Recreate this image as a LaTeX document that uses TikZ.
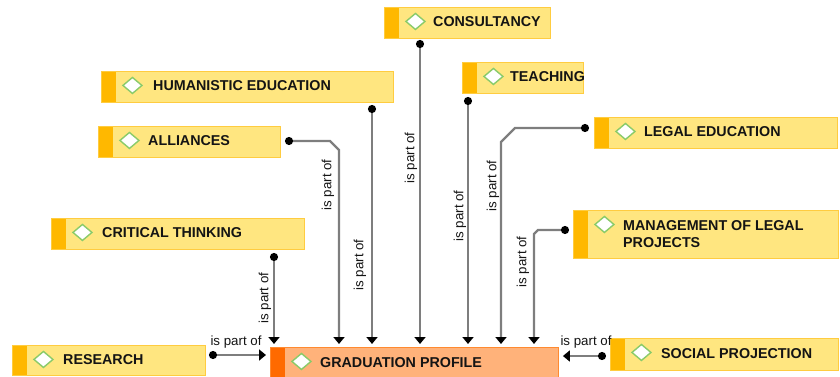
\documentclass[tikz,border=0pt]{standalone}
\usepackage{fontspec}
\setmainfont{Liberation Sans}
\usetikzlibrary{arrows.meta}
\definecolor{yfill}{HTML}{FFE680}
\definecolor{ydraw}{HTML}{FFCC40}
\definecolor{ystripe}{HTML}{FFB800}
\definecolor{ofill}{HTML}{FFB27A}
\definecolor{odraw}{HTML}{FF8A30}
\definecolor{ostripe}{HTML}{FF6A00}
\definecolor{dgreen}{HTML}{8ACB6A}
\definecolor{lgray}{HTML}{7E7E7E}
\definecolor{txt}{HTML}{141414}
\tikzset{
  anybox/.style n args={3}{draw=#1, fill=#2, line width=0.9pt, anchor=north west, inner sep=0pt,
    path picture={
      \fill[#3] (path picture bounding box.north west) rectangle ([xshift=15pt]path picture bounding box.south west);
      \draw[dgreen, fill=white, line width=1.4pt] ([xshift=31pt,yshift=-14pt]path picture bounding box.north west)
        +(-9.5pt,0) -- +(0,8pt) -- +(9.5pt,0) -- +(0,-8pt) -- cycle;
    }},
  ybox/.style={anybox={ydraw}{yfill}{ystripe}},
  obox/.style={anybox={odraw}{ofill}{ostripe}},
  btext/.style={anchor=west, inner sep=0pt, text=txt, align=left,
    font=\fontsize{14.3}{17}\selectfont\bfseries},
  conn/.style={draw=lgray, line width=2.2pt,
    arrows={Circle[length=8pt,color=black]-Triangle[length=7pt,width=11pt,color=black]}},
  lbl/.style={inner sep=0pt, text=txt, font=\fontsize{13.3}{15}\selectfont},
  vlbl/.style={lbl, rotate=90}
}
\begin{document}
\begin{tikzpicture}[x=1pt,y=-1pt]
\useasboundingbox (0,0) rectangle (840,377);
% boxes
\node[ybox, minimum width=166pt, minimum height=31pt] (cons) at (384,7) {};
\node[btext] (cons-t) at ([xshift=49pt,yshift=1pt]cons.west) {CONSULTANCY};
\node[ybox, minimum width=292pt, minimum height=31pt] (hum) at (101,71) {};
\node[btext] (hum-t) at ([xshift=52pt,yshift=1pt]hum.west) {HUMANISTIC EDUCATION};
\node[ybox, minimum width=121pt, minimum height=31pt] (teach) at (462,62) {};
\node[btext] (teach-t) at ([xshift=48pt,yshift=1pt]teach.west) {TEACHING};
\node[ybox, minimum width=182pt, minimum height=31pt] (alli) at (98,126) {};
\node[btext] (alli-t) at ([xshift=50pt,yshift=1pt]alli.west) {ALLIANCES};
\node[ybox, minimum width=243pt, minimum height=31pt] (legal) at (594,117) {};
\node[btext] (legal-t) at ([xshift=50pt,yshift=1pt]legal.west) {LEGAL EDUCATION};
\node[ybox, minimum width=253pt, minimum height=31pt] (crit) at (51,218) {};
\node[btext] (crit-t) at ([xshift=51pt,yshift=1pt]crit.west) {CRITICAL THINKING};
\node[ybox, minimum width=265pt, minimum height=48pt] (mgmt) at (573,210) {};
\node[btext] (mgmt-t) at ([xshift=50pt,yshift=0pt]mgmt.west) {MANAGEMENT OF LEGAL\\PROJECTS};
\node[ybox, minimum width=193pt, minimum height=30pt] (res) at (12,345) {};
\node[btext] (res-t) at ([xshift=51pt,yshift=1pt]res.west) {RESEARCH};
\node[obox, minimum width=288pt, minimum height=32pt] (grad) at (270,347) {};
\node[btext] (grad-t) at ([xshift=50pt,yshift=1pt]grad.west) {GRADUATION PROFILE};
\node[ybox, minimum width=228pt, minimum height=32pt] (soc) at (610,338) {};
\node[btext] (soc-t) at ([xshift=51pt,yshift=1pt]soc.west) {SOCIAL PROJECTION};
% connector origins
\coordinate (crit-o) at (274,253);
\coordinate (alli-o) at (285,141);
\coordinate (alli-c) at (330,141);
\coordinate (alli-d) at (339,150);
\coordinate (hum-o) at (372,105);
\coordinate (cons-o) at (420,40);
\coordinate (teach-o) at (468,97);
\coordinate (legal-o) at (589,128);
\coordinate (legal-c) at (515,128);
\coordinate (legal-d) at (501,142);
\coordinate (mgmt-o) at (569,230);
\coordinate (mgmt-c) at (538,230);
\coordinate (mgmt-d) at (534,234);
\coordinate (res-o) at (209,355);
\coordinate (soc-o) at (606,356);
% connectors
\draw[conn, shorten >=3pt] (crit-o) -- (crit-o |- grad.north);
\draw[conn, shorten >=3pt] (alli-o) -- (alli-c) -- (alli-d) -- (alli-d |- grad.north);
\draw[conn, shorten >=3pt] (hum-o) -- (hum-o |- grad.north);
\draw[conn, shorten >=3pt] (cons-o) -- (cons-o |- grad.north);
\draw[conn, shorten >=3pt] (teach-o) -- (teach-o |- grad.north);
\draw[conn, shorten >=3pt] (legal-o) -- (legal-c) -- (legal-d) -- (legal-d |- grad.north);
\draw[conn, shorten >=3pt] (mgmt-o) -- (mgmt-c) -- (mgmt-d) -- (mgmt-d |- grad.north);
\draw[conn, shorten >=4pt] (res-o) -- (res-o -| grad.west);
\draw[conn, shorten >=4pt] (soc-o) -- (soc-o -| grad.east);
% labels
\node[vlbl] (l-crit) at (265,298) {is part of};
\node[vlbl] (l-alli) at (328,185) {is part of};
\node[vlbl] (l-hum) at (360,265) {is part of};
\node[vlbl] (l-cons) at (411,158) {is part of};
\node[vlbl] (l-teach) at (460,216) {is part of};
\node[vlbl] (l-legal) at (493,186) {is part of};
\node[vlbl] (l-mgmt) at (523,262) {is part of};
\node[lbl] (l-res) at (236,342) {is part of};
\node[lbl] (l-soc) at (586,342) {is part of};
\end{tikzpicture}
\end{document}
